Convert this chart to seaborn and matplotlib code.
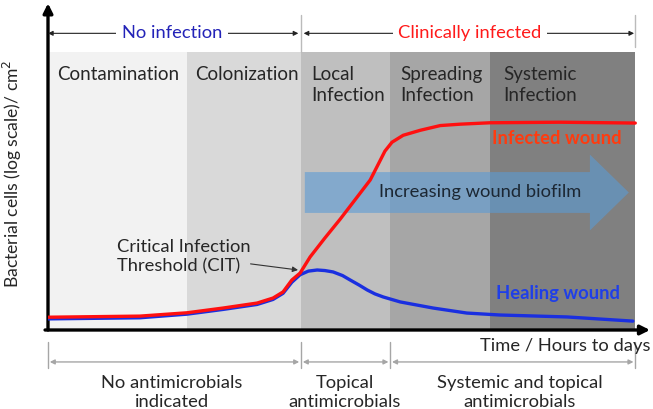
import numpy as np
import pandas as pd
import matplotlib
matplotlib.use("Agg")
import matplotlib.pyplot as plt
import seaborn as sns

# stages (time axis in arbitrary units, 0 .. 10)
stage_names = ["Contamination", "Colonization", "Local\nInfection", "Spreading\nInfection", "Systemic\nInfection"]
stage_edges = [0, 2.36, 4.295, 5.81, 7.51, 9.97]
stage_colors = ["#f2f2f2", "#d9d9d9", "#bfbfbf", "#a6a6a6", "#808080"]

# curves (bacterial cells, log scale, arbitrary units)
infected_t = [0, 1.56, 2.36, 2.97, 3.55, 3.82, 3.99, 4.14, 4.28, 4.45, 4.70, 4.96,
              5.21, 5.47, 5.60, 5.72, 5.84, 6.03, 6.32, 6.66, 7.00, 7.50, 8.69, 9.97]
infected_v = [0.46, 0.50, 0.62, 0.79, 0.97, 1.15, 1.37, 1.80, 2.05, 2.63, 3.31, 3.99,
              4.68, 5.40, 5.94, 6.44, 6.76, 7.01, 7.19, 7.36, 7.41, 7.46, 7.48, 7.45]
healing_t = [0, 1.56, 2.36, 2.97, 3.55, 3.82, 3.99, 4.14, 4.28, 4.42, 4.57, 4.70,
             4.84, 5.00, 5.13, 5.28, 5.42, 5.55, 5.69, 5.98, 6.54, 7.11, 7.67, 8.81, 9.93]
healing_v = [0.40, 0.44, 0.57, 0.74, 0.92, 1.10, 1.32, 1.72, 1.99, 2.12, 2.16, 2.14,
             2.09, 1.96, 1.80, 1.62, 1.44, 1.30, 1.19, 1.01, 0.79, 0.61, 0.54, 0.47, 0.32]

# treatment groups along the bottom
treat_names = ["No antimicrobials\nindicated", "Topical\nantimicrobials", "Systemic and topical\nantimicrobials"]
treat_edges = [0, 4.295, 5.81, 9.97]

infected = pd.DataFrame({"t": infected_t, "v": infected_v})
healing = pd.DataFrame({"t": healing_t, "v": healing_v})

sns.set_theme(style="white")
plt.rcParams["font.family"] = ["Lato", "DejaVu Sans"]

fig = plt.figure(figsize=(6.53, 4.09), dpi=100)
ax = fig.add_axes([48 / 653, 79 / 409, 602 / 653, 325 / 409])
ax.set_xlim(0, 10.22)
ax.set_ylim(0, 11.7)
ax.axis("off")

fs = 13.2
txt = "#262626"
band_top = 10
# stage bands
ax.bar(stage_edges[:-1], band_top, width=np.diff(stage_edges), align="edge",
       color=stage_colors, linewidth=0, zorder=0)
label_x = [0.15, 2.50, 4.465, 5.98, 7.725]
for name, x in zip(stage_names, label_x):
    ax.text(x, 9.52, name, ha="left", va="top", fontsize=13.5, color=txt,
            linespacing=1.35, zorder=3)

# big biofilm arrow
ax.arrow(4.36, 4.95, 9.86 - 4.36 - 0.66, 0, width=1.47, head_width=2.73,
         head_length=0.66, length_includes_head=False, color="#5b9bd5",
         alpha=0.6, linewidth=0, zorder=1)
ax.text(7.33, 4.96, "Increasing wound biofilm", ha="center", va="center",
        fontsize=fs, color="#1c2733", zorder=3)

# curves
sns.lineplot(data=healing, x="t", y="v", color="#1a2fe0", linewidth=2.4, ax=ax,
             zorder=4, sort=False)
sns.lineplot(data=infected, x="t", y="v", color="#ff1010", linewidth=2.4, ax=ax,
             zorder=5, sort=False)
ax.text(9.745, 6.91, "Infected wound", ha="right", va="center", fontsize=fs,
        fontweight="bold", color="#ff3b0f", zorder=3)
ax.text(9.71, 1.33, "Healing wound", ha="right", va="center", fontsize=fs,
        fontweight="bold", color="#1f3fe8", zorder=3)

# critical infection threshold
ax.annotate("Critical Infection\nThreshold (CIT)", xy=(4.245, 2.16), xytext=(1.17, 2.64),
            ha="left", va="center", fontsize=fs, color=txt, linespacing=1.3,
            arrowprops=dict(arrowstyle="-|>", color="#333333", lw=0.8,
                            mutation_scale=8, shrinkA=0, shrinkB=0,
                            patchA=None, relpos=(1.0, 0.3)),
            zorder=6)

# axes with arrow heads
ax.annotate("", xy=(0, 11.76), xytext=(0, 0), annotation_clip=False,
            arrowprops=dict(arrowstyle="-|>", color="black", lw=2.4,
                            mutation_scale=14, shrinkA=0, shrinkB=0))
ax.annotate("", xy=(10.22, 0), xytext=(-0.05, 0), annotation_clip=False,
            arrowprops=dict(arrowstyle="-|>", color="black", lw=2.4,
                            mutation_scale=14, shrinkA=0, shrinkB=0))
ax.text(10.22, -0.56, "Time / Hours to days", ha="right", va="center",
        fontsize=fs, color=txt, clip_on=False)
ax.text(-0.61, 5.62, "Bacterial cells (log scale)/ cm$^2$", rotation=90,
        ha="center", va="center", fontsize=12.6, color=txt, clip_on=False)

# top brackets
top_y = 10.68
for x0, x1, label, col, xc in [(0, 4.25, "No infection", "#2323b8", 2.105),
                                (4.34, 9.95, "Clinically infected", "#ff1a1a", 7.16)]:
    ax.annotate("", xy=(x1, top_y), xytext=(x0, top_y), annotation_clip=False,
                arrowprops=dict(arrowstyle="<|-|>", color="#222222", lw=0.8,
                                mutation_scale=7, shrinkA=0, shrinkB=0))
    ax.text(xc, top_y, label, ha="center", va="center", fontsize=fs, color=col,
            bbox=dict(facecolor="white", edgecolor="none", pad=4), clip_on=False)
ax.plot([4.295, 4.295], [10, 11.33], color="#bbbbbb", lw=1, clip_on=False)
ax.plot([9.97, 9.97], [10.2, 11.33], color="#bbbbbb", lw=1, clip_on=False)

# bottom treatment brackets
bot_y = -1.15
for x in treat_edges:
    ax.plot([x, x], [-0.43, -1.37], color="#a6a6a6", lw=1, clip_on=False)
for i, name in enumerate(treat_names):
    x0, x1 = treat_edges[i], treat_edges[i + 1]
    ax.annotate("", xy=(x1 - 0.03, bot_y), xytext=(x0 + 0.03, bot_y), annotation_clip=False,
                arrowprops=dict(arrowstyle="<|-|>", color="#a6a6a6", lw=1,
                                mutation_scale=7, shrinkA=0, shrinkB=0))
treat_x = [2.105, 5.04, 8.01]
for name, x in zip(treat_names, treat_x):
    ax.text(x, -2.25, name, ha="center", va="center", fontsize=fs, color=txt,
            linespacing=1.25, clip_on=False)

fig.savefig("out.png", dpi=100)
